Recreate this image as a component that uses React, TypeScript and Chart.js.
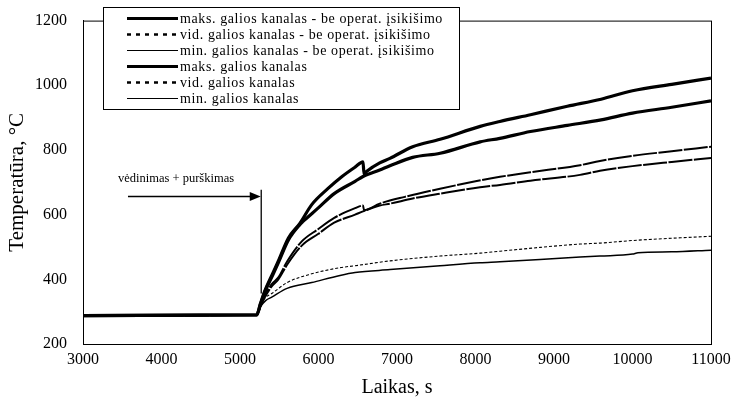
import React, { useEffect, useRef } from "react";
import { Chart, registerables } from "chart.js";

Chart.register(...registerables);

// ---- Data (time in s, temperature in °C) ----
const tMaks1 = [3000, 5212, 5260, 5318, 5420, 5489, 5617, 5765, 5914, 6122, 6300, 6466, 6567, 6580, 6620, 6780, 6910, 7200, 7550, 8060, 8310, 8700, 9170, 9600, 10000, 10500, 11000];
const vMaks1 = [288, 290, 325, 365, 420, 457, 528, 574, 631, 681, 718, 747, 763, 726, 735, 760, 774, 810, 833, 873, 888, 909, 935, 957, 983, 1003, 1022];

const tVid1 = [3000, 5212, 5260, 5318, 5404, 5489, 5600, 5790, 5994, 6200, 6466, 6567, 6580, 6780, 7100, 7548, 8000, 8312, 8700, 9332, 9586, 10000, 10500, 11000];
const vVid1 = [288, 290, 318, 350, 385, 406, 455, 518, 555, 590, 620, 628, 614, 634, 655, 680, 703, 717, 731, 753, 766, 782, 796, 810];

const tMin1 = [3000, 5212, 5260, 5330, 5404, 5600, 5914, 6274, 6466, 6911, 7548, 8058, 8312, 9332, 9586, 10000, 10500, 11000];
const vMin1 = [288, 290, 322, 345, 356, 390, 417, 436, 442, 457, 472, 481, 487, 509, 512, 520, 527, 533];

const tMaks2 = [3000, 5212, 5260, 5318, 5420, 5489, 5617, 5765, 5803, 5994, 6200, 6466, 6567, 6780, 6910, 7200, 7550, 8060, 8310, 8700, 9170, 9600, 10000, 10500, 11000];
const vMaks2 = [288, 290, 322, 362, 415, 452, 522, 570, 579, 620, 665, 703, 718, 738, 751, 777, 790, 825, 836, 857, 876, 893, 914, 932, 952];

const tVid2 = [3000, 5212, 5260, 5318, 5404, 5489, 5600, 5790, 5994, 6200, 6466, 6567, 6780, 6911, 7200, 7548, 8058, 8312, 8700, 9332, 9586, 10000, 10500, 11000];
const vVid2 = [288, 290, 316, 345, 378, 400, 445, 505, 540, 575, 600, 610, 628, 634, 650, 665, 685, 692, 705, 723, 736, 750, 763, 775];

const tMin2 = [3000, 5212, 5260, 5330, 5404, 5600, 5914, 6274, 6466, 6911, 7548, 8058, 8312, 9332, 9586, 10000, 10070, 10500, 11000];
const vMin2 = [288, 290, 315, 335, 345, 372, 390, 412, 421, 430, 442, 451, 454, 469, 472, 478, 482, 485, 490];

const seriesLabels = [
  "maks. galios kanalas - be operat. įsikišimo",
  "vid. galios kanalas - be operat. įsikišimo",
  "min. galios kanalas - be operat. įsikišimo",
  "maks. galios kanalas",
  "vid. galios kanalas",
  "min. galios kanalas",
];

const xMin = 3000;
const xMax = 11000;
const xStep = 1000;
const yMin = 200;
const yMax = 1200;
const yStep = 200;

const xTitle = "Laikas, s";
const yTitle = "Temperatūra, °C";

// annotation (data coordinates)
const annoText = "vėdinimas + purškimas";
const annoTextX = 4185;
const annoTextY = 711;
const arrowStartX = 3573;
const arrowEndX = 5264;
const arrowY = 659;
const markTopY = 677;
const markBottomY = 356;

const SERIF = "'Liberation Serif', 'Times New Roman', serif";

const toPoints = (t: number[], v: number[]) => t.map((x, i) => ({ x, y: v[i] }));

// legend sample styles [lineWidth, dash]
const legendStyles: [number, number[]][] = [
  [3, []],
  [2.5, [4, 5]],
  [1.2, []],
  [3, []],
  [2.5, [4, 5]],
  [1.2, []],
];

const framePlugin = {
  id: "frame",
  afterDraw(chart: any) {
    const { ctx, chartArea } = chart;
    const { left, top, right, bottom } = chartArea;
    ctx.save();
    ctx.strokeStyle = "#000";
    ctx.lineWidth = 1;
    ctx.strokeRect(left + 0.5, top + 0.5, right - left, bottom - top);

    // legend box
    const bx = 103, by = 7, bw = 356, bh = 102;
    ctx.fillStyle = "#fff";
    ctx.fillRect(bx, by, bw, bh);
    ctx.strokeRect(bx + 0.5, by + 0.5, bw, bh);
    ctx.font = `14px ${SERIF}`;
    try {
      (ctx as any).letterSpacing = "0.6px";
    } catch (e) {}
    ctx.textBaseline = "middle";
    ctx.textAlign = "left";
    ctx.fillStyle = "#000";
    seriesLabels.forEach((lab, i) => {
      const y = 18.5 + i * 16;
      const [lw, dash] = legendStyles[i];
      ctx.beginPath();
      ctx.lineWidth = lw;
      ctx.setLineDash(dash);
      ctx.moveTo(127, y);
      ctx.lineTo(178, y);
      ctx.stroke();
      ctx.setLineDash([]);
      ctx.fillText(lab, 180, y + 0.5);
    });
    try {
      (ctx as any).letterSpacing = "0px";
    } catch (e) {}

    // annotation
    const xs = chart.scales.x;
    const ys = chart.scales.y;
    const tx = xs.getPixelForValue(annoTextX);
    const ty = ys.getPixelForValue(annoTextY);
    ctx.font = `12.5px ${SERIF}`;
    ctx.textAlign = "center";
    ctx.fillText(annoText, tx, ty);

    const ax0 = xs.getPixelForValue(arrowStartX);
    const ax1 = xs.getPixelForValue(arrowEndX);
    const ay = Math.round(ys.getPixelForValue(arrowY)) + 0.5;
    ctx.lineWidth = 1.3;
    ctx.beginPath();
    ctx.moveTo(ax0, ay);
    ctx.lineTo(ax1 - 8, ay);
    ctx.stroke();
    ctx.beginPath();
    ctx.moveTo(ax1, ay);
    ctx.lineTo(ax1 - 11, ay - 4.5);
    ctx.lineTo(ax1 - 11, ay + 4.5);
    ctx.closePath();
    ctx.fill();

    ctx.beginPath();
    ctx.lineWidth = 1.3;
    ctx.moveTo(ax1 + 0.5, ys.getPixelForValue(markTopY));
    ctx.lineTo(ax1 + 0.5, ys.getPixelForValue(markBottomY));
    ctx.stroke();
    ctx.restore();
  },
};

export default function App() {
  const ref = useRef<HTMLCanvasElement | null>(null);

  useEffect(() => {
    if (!ref.current) return;
    const mk = (label: string, t: number[], v: number[], w: number, dash: number[]) => ({
      label,
      data: toPoints(t, v),
      borderColor: "#000",
      backgroundColor: "#000",
      borderWidth: w,
      borderDash: dash,
      pointRadius: 0,
      fill: false,
      tension: 0,
      cubicInterpolationMode: "monotone" as const,
    });

    const chart = new Chart(ref.current, {
      type: "line",
      data: {
        datasets: [
          mk(seriesLabels[0], tMaks1, vMaks1, 3.2, []),
          mk(seriesLabels[1], tVid1, vVid1, 2, [24, 1.5]),
          mk(seriesLabels[2], tMin1, vMin1, 1.1, [3, 2]),
          mk(seriesLabels[3], tMaks2, vMaks2, 3.2, []),
          mk(seriesLabels[4], tVid2, vVid2, 2, [24, 1.5]),
          mk(seriesLabels[5], tMin2, vMin2, 1.5, []),
        ],
      },
      options: {
        animation: false,
        responsive: false,
        devicePixelRatio: 1,
        layout: { padding: { top: 17, right: 25, left: 0, bottom: 0 } },
        plugins: {
          legend: { display: false },
          tooltip: { enabled: false },
        },
        scales: {
          x: {
            type: "linear",
            min: xMin,
            max: xMax,
            afterFit: (s: any) => {
              s.height = 67;
            },
            ticks: {
              stepSize: xStep,
              color: "#000",
              font: { family: SERIF, size: 16 },
              padding: 1,
              maxRotation: 0,
              callback: (v: any) => String(v),
            },
            grid: { display: false, drawTicks: true, tickLength: 5, color: "#000" },
            border: { display: true, color: "#000", width: 1 },
            title: {
              display: true,
              text: xTitle,
              color: "#000",
              font: { family: SERIF, size: 20 },
              padding: { top: 0, bottom: 11 },
            },
          },
          y: {
            type: "linear",
            min: yMin,
            max: yMax,
            afterFit: (s: any) => {
              s.width = 83;
            },
            ticks: {
              stepSize: yStep,
              color: "#000",
              font: { family: SERIF, size: 16 },
              padding: 11,
              callback: (v: any) => String(v),
            },
            grid: { display: false, drawTicks: true, tickLength: 5, color: "#000" },
            border: { display: true, color: "#000", width: 1 },
            title: {
              display: true,
              text: yTitle,
              color: "#000",
              font: { family: SERIF, size: 21 },
              padding: { top: 5, bottom: 0 },
            },
          },
        },
      },
      plugins: [framePlugin],
    });
    return () => chart.destroy();
  }, []);

  return (
    <div style={{ position: "absolute", left: 0, top: 0, width: 736, height: 411, background: "#fff" }}>
      <canvas ref={ref} width={736} height={411} style={{ width: 736, height: 411, display: "block" }} />
    </div>
  );
}
